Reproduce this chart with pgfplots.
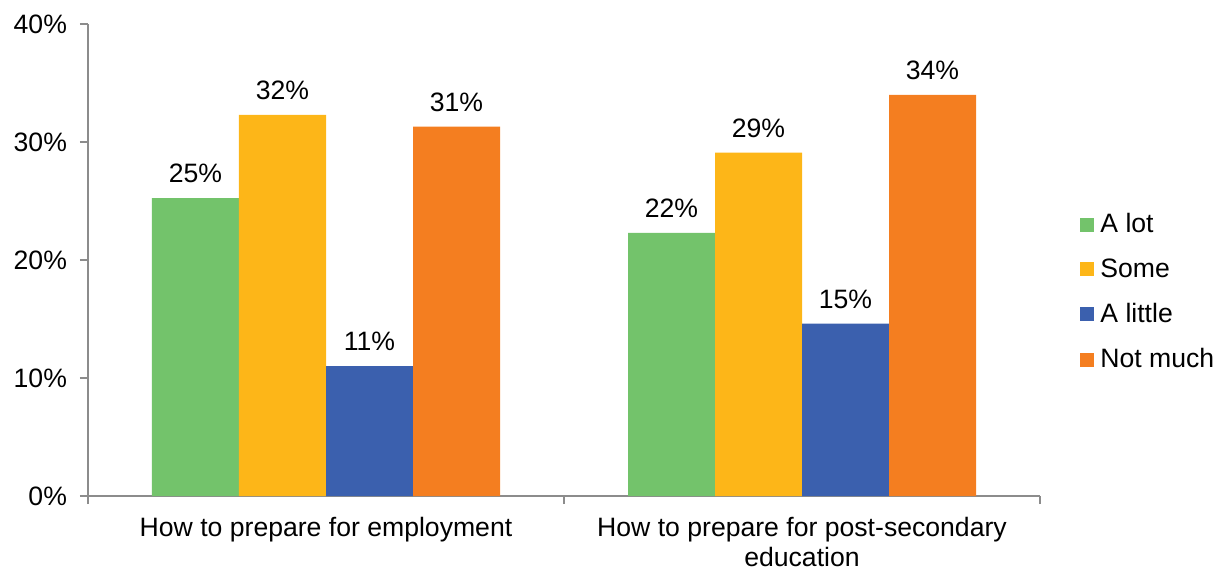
\documentclass[border=0pt]{standalone}
\usepackage{pgfplots}
\pgfplotsset{compat=1.18}
\usepackage{fontspec}
\setmainfont{Liberation Sans}
\definecolor{cgreen}{HTML}{73C36B}
\definecolor{cyellow}{HTML}{FDB618}
\definecolor{cblue}{HTML}{3B60AE}
\definecolor{corange}{HTML}{F47E20}
\definecolor{axgray}{HTML}{8C8C8C}
\begin{document}
\begin{tikzpicture}
\begin{axis}[
  scale only axis,
  width=476pt, height=236pt,
  ybar=0pt, bar width=43.5pt,
  xmin=-0.5, xmax=1.5, ymin=0, ymax=40,
  axis x line*=bottom, axis y line*=left,
  axis line style={draw=axgray, line width=0.8pt, -},
  xtick={0,1},
  xticklabels={How to prepare for employment, {How to prepare for post-secondary\\education}},
  x tick label style={align=center, font=\fontsize{13.3}{15}\selectfont, yshift=-3pt, anchor=north},
  major x tick style={draw=none},
  minor xtick={-0.5,0.5,1.5},
  minor x tick style={draw=axgray, line width=0.8pt},
  minor tick length=4pt,
  tick align=outside,
  ytick={0,10,20,30,40},
  yticklabels={0\%,10\%,20\%,30\%,40\%},
  y tick label style={font=\fontsize{13.3}{15}\selectfont, xshift=-3pt},
  major y tick style={draw=axgray, line width=0.8pt},
  major tick length=4pt,
  /pgf/number format/assume math mode=true,
  nodes near coords={\pgfmathprintnumber[fixed,precision=0,assume math mode=true]{\pgfplotspointmeta}\%},
  every node near coord/.append style={font=\fontsize{13.3}{15}\selectfont, yshift=4pt},
  legend image code/.code={\fill[#1] (0pt,-3.5pt) rectangle (7pt,3.5pt);},
  legend style={draw=none, fill=none, inner sep=0pt, at={(1.042,0.432)}, anchor=west,
    font=\fontsize{13.3}{15}\selectfont, row sep=7.5pt,
    nodes={inner xsep=3pt}},
  legend cell align=left,
  clip=false,
]
\addplot[fill=cgreen, draw=none] coordinates {(0,25.25) (1,22.3)};
\addplot[fill=cyellow, draw=none] coordinates {(0,32.3) (1,29.1)};
\addplot[fill=cblue, draw=none] coordinates {(0,11.0) (1,14.6)};
\addplot[fill=corange, draw=none] coordinates {(0,31.3) (1,34.0)};
\legend{A lot, Some, A little, Not much}
\coordinate (O) at (rel axis cs:0,0);
\coordinate (T) at (rel axis cs:1,1);
\end{axis}
\pgfresetboundingbox
\path ([shift={(-44pt,-36.5pt)}]O) rectangle ([shift={(90.5pt,12pt)}]T);
\end{tikzpicture}
\end{document}
